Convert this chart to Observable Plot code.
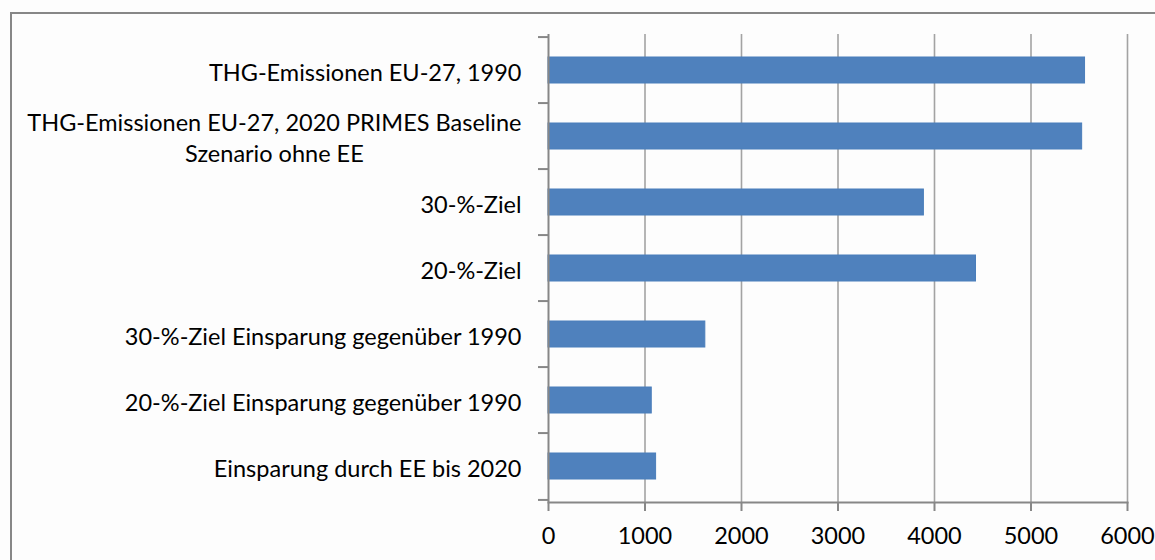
<!DOCTYPE html>
<html>
<head>
<meta charset="utf-8">
<script src="https://cdn.jsdelivr.net/npm/d3@7"></script>
<script src="https://cdn.jsdelivr.net/npm/@observablehq/plot@0.6"></script>
<style>
  html, body { margin: 0; padding: 0; background: #fdfdfd; }
  #wrap { position: relative; width: 1155px; height: 560px; overflow: hidden; }
  #border { position: absolute; left: 10px; top: 12px; width: 1200px; height: 600px;
            border: 2px solid #878787; box-sizing: border-box; pointer-events: none; }
  #chart { position: absolute; left: 0; top: 0; }
</style>
</head>
<body>
<div id="wrap"><div id="chart"></div><div id="border"></div></div>
<script>
const categories = [
  "THG-Emissionen EU-27, 1990",
  "THG-Emissionen EU-27, 2020 PRIMES Baseline\nSzenario ohne EE",
  "30-%-Ziel",
  "20-%-Ziel",
  "30-%-Ziel Einsparung gegenüber 1990",
  "20-%-Ziel Einsparung gegenüber 1990",
  "Einsparung durch EE bis 2020"
];
const values = [5560, 5530, 3890, 4430, 1625, 1070, 1115];
const xTicks = [0, 1000, 2000, 3000, 4000, 5000, 6000];

const data = categories.map((c, i) => ({category: c, value: values[i]}));

const W = 1155, H = 560, mT = 34, mB = 58, mL = 548, mR = 28;
const step = (H - mT - mB) / categories.length;
const axisColor = "#878787";
const FS = 23.5;

const chart = Plot.plot({
  width: W, height: H,
  marginLeft: mL, marginRight: mR, marginTop: mT, marginBottom: mB,
  style: {fontFamily: "Lato, 'Open Sans', sans-serif", fontSize: FS + "px", color: "#000", background: "transparent"},
  x: {domain: [0, 6000], label: null},
  y: {domain: categories, paddingInner: 0.6, paddingOuter: 0.3, label: null},
  marks: [
    Plot.gridX(xTicks.slice(1), {stroke: "#a3a3a3", strokeOpacity: 1, strokeWidth: 1.6}),
    Plot.barX(data, {x: "value", y: "category", fill: "#4F81BD", stroke: "#4a7ebb", strokeWidth: 1}),
    Plot.ruleX([0], {stroke: axisColor, strokeWidth: 2}),
    Plot.frame({anchor: "bottom", stroke: axisColor, strokeWidth: 2}),
    Plot.axisX({ticks: xTicks, tickFormat: d3.format("d"), tickSize: 9, tickPadding: 16, stroke: axisColor, strokeWidth: 2, fill: "#000", label: null, fontSize: FS}),
    Plot.axisY({tickSize: 10, dy: -step / 2, stroke: axisColor, strokeWidth: 2, tickFormat: () => "", label: null}),
    Plot.axisY({ticks: [categories[categories.length - 1]], tickSize: 10, dy: step / 2, stroke: axisColor, strokeWidth: 2, tickFormat: () => "", label: null}),
    Plot.axisY({tickSize: 0, tickPadding: 27, fill: "#000", label: null, lineHeight: 1.34, fontSize: FS})
  ]
});

document.getElementById("chart").appendChild(chart);

// center-align multi-line category labels as a block (right edge kept)
chart.querySelectorAll("text").forEach(t => {
  const spans = t.querySelectorAll("tspan");
  if (spans.length > 1) {
    const w = t.getBBox().width;
    t.setAttribute("text-anchor", "middle");
    const tr = t.getAttribute("transform") || "";
    t.setAttribute("transform", tr + ` translate(${-w / 2},0)`);
  }
});
</script>
</body>
</html>
